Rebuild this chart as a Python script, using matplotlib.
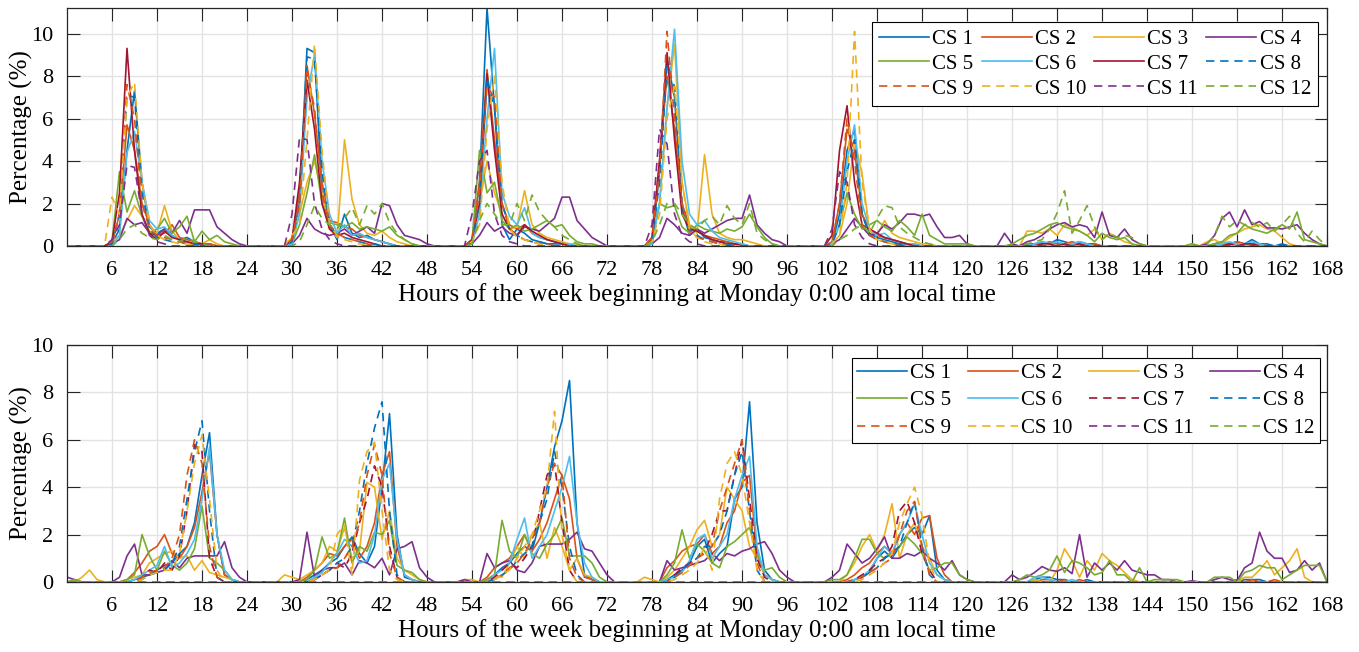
import numpy as np
import matplotlib
matplotlib.use("Agg")
import matplotlib.pyplot as plt

plt.rcParams["font.family"] = ["Liberation Serif", "DejaVu Serif"]
plt.rcParams["font.size"] = 14

# hour of the week, 0 .. 168
hours = np.arange(169)
labels = ["CS %d" % i for i in range(1, 13)]

# ---- top panel: one row per day (Mon..Sun, 24 h), last value = hour 168 ----
top_cs1 = [
    0, 0, 0, 0, 0, 0, 0.1, 0.8, 4.5, 7.3, 3.0, 0.9, 0.6, 0.8, 0.5, 0.3, 0.4, 0.2, 0.1, 0.1, 0, 0, 0, 0,
    0, 0, 0, 0, 0, 0, 0.3, 2.0, 9.3, 9.1, 2.5, 1.0, 0.3, 1.5, 0.6, 0.4, 0.5, 0.3, 0.2, 0.1, 0, 0, 0, 0,
    0, 0, 0, 0, 0, 0, 0.1, 3.0, 11.2, 6.5, 1.0, 0.3, 0.8, 0.6, 0.3, 0.2, 0.1, 0.1, 0.1, 0, 0, 0, 0, 0,
    0, 0, 0, 0, 0, 0, 0.1, 3.5, 8.8, 7.0, 1.8, 0.5, 0.8, 0.4, 0.3, 0.2, 0.2, 0.1, 0, 0, 0, 0, 0, 0,
    0, 0, 0, 0, 0, 0, 0.1, 1.5, 4.5, 5.5, 1.5, 0.6, 0.4, 0.3, 0.2, 0.1, 0.1, 0, 0, 0, 0, 0, 0, 0,
    0, 0, 0, 0, 0, 0, 0, 0, 0.1, 0.1, 0.2, 0.1, 0.3, 0.2, 0.1, 0.2, 0.1, 0.1, 0, 0, 0, 0, 0, 0,
    0, 0, 0, 0, 0, 0, 0, 0, 0, 0.1, 0.2, 0.1, 0.2, 0.1, 0.3, 0.1, 0.1, 0, 0.1, 0, 0, 0, 0, 0,
    0]
top_cs2 = [
    0, 0, 0, 0, 0, 0, 0.1, 1.5, 5.7, 4.5, 2.0, 1.0, 0.5, 0.6, 1.0, 0.4, 0.3, 0.2, 0.1, 0.1, 0, 0, 0, 0,
    0, 0, 0, 0, 0, 0, 0.2, 2.5, 8.5, 6.2, 3.0, 1.2, 1.1, 0.9, 0.8, 0.5, 0.4, 0.3, 0.2, 0.1, 0, 0, 0, 0,
    0, 0, 0, 0, 0, 0, 0.3, 3.0, 8.3, 5.0, 2.0, 1.0, 0.8, 1.0, 0.6, 0.4, 0.3, 0.2, 0.1, 0, 0, 0, 0, 0,
    0, 0, 0, 0, 0, 0, 0.3, 4.0, 8.0, 5.5, 2.0, 0.9, 0.7, 0.5, 0.4, 0.3, 0.2, 0.1, 0.1, 0, 0, 0, 0, 0,
    0, 0, 0, 0, 0, 0, 0.2, 2.0, 5.5, 4.5, 1.5, 0.8, 0.5, 0.4, 0.3, 0.2, 0.1, 0.1, 0, 0, 0, 0, 0, 0,
    0, 0, 0, 0, 0, 0, 0, 0, 0, 0.1, 0.1, 0.2, 0.1, 0.1, 0.2, 0.1, 0, 0.1, 0, 0, 0, 0, 0, 0,
    0, 0, 0, 0, 0, 0, 0, 0, 0, 0, 0.1, 0.1, 0.2, 0.1, 0.1, 0.1, 0, 0, 0, 0, 0, 0, 0, 0,
    0]
top_cs3 = [
    0, 0, 0, 0, 0, 0, 0.2, 0.5, 1.2, 1.9, 1.4, 0.7, 0.6, 1.9, 0.7, 0.3, 0.2, 0.1, 0.1, 0.3, 0.1, 0, 0, 0,
    0, 0, 0, 0, 0, 0, 0.4, 1.5, 3.0, 4.0, 2.5, 0.8, 0.4, 5.0, 2.2, 1.0, 0.6, 0.5, 0.7, 0.4, 0.2, 0.1, 0, 0,
    0, 0, 0, 0, 0, 0, 0.3, 2.0, 4.0, 2.5, 1.5, 0.8, 0.9, 2.6, 1.0, 0.6, 0.4, 0.3, 0.2, 0.1, 0.1, 0, 0, 0,
    0, 0, 0, 0, 0, 0, 0.2, 2.0, 6.5, 9.5, 3.0, 1.0, 0.6, 4.3, 1.5, 0.6, 0.4, 0.3, 0.3, 0.2, 0.1, 0, 0, 0,
    0, 0, 0, 0, 0, 0, 0.1, 0.5, 2.0, 5.0, 3.4, 0.7, 0.5, 1.2, 0.6, 0.4, 0.3, 0.2, 0.1, 0.1, 0, 0, 0, 0,
    0, 0, 0, 0, 0, 0, 0, 0, 0.7, 0.7, 0.6, 0.8, 0.5, 1.0, 0.9, 0.7, 0.5, 0.8, 0.3, 0.6, 0.4, 0.2, 0.1, 0,
    0, 0, 0, 0, 0, 0, 0.1, 0, 0.2, 0.3, 0.1, 0.4, 0.6, 0.8, 0.9, 1.0, 0.8, 0.7, 0.4, 0.1, 0, 0, 0, 0,
    0]
top_cs4 = [
    0, 0, 0, 0, 0, 0, 0.1, 0.3, 1.3, 1.0, 1.1, 0.6, 0.5, 0.8, 0.6, 1.2, 0.6, 1.7, 1.7, 1.7, 0.9, 0.6, 0.3, 0.1,
    0, 0, 0, 0, 0, 0, 0.1, 0.5, 1.3, 0.8, 0.6, 0.5, 0.6, 0.8, 0.5, 0.7, 0.9, 0.6, 2.0, 1.9, 1.0, 0.5, 0.4, 0.3,
    0.1, 0, 0, 0, 0, 0, 0.1, 0.5, 1.1, 0.7, 0.9, 0.6, 0.5, 0.9, 0.8, 0.7, 1.0, 1.3, 2.3, 2.3, 1.2, 0.8, 0.4, 0.2,
    0, 0, 0, 0, 0, 0, 0.1, 0.4, 1.3, 1.0, 0.6, 0.5, 0.8, 0.6, 0.8, 1.0, 1.2, 1.3, 1.3, 2.4, 1.0, 0.6, 0.3, 0.2,
    0, 0, 0, 0, 0, 0, 0.1, 0.3, 0.8, 1.3, 0.9, 0.5, 0.6, 1.0, 0.8, 1.1, 1.5, 1.5, 1.4, 1.5, 0.9, 0.4, 0.4, 0.5,
    0.1, 0, 0, 0, 0, 0.6, 0.1, 0, 0.2, 0.3, 0.5, 0.8, 1.0, 1.1, 0.9, 1.0, 0.9, 0.4, 1.6, 0.5, 0.4, 0.8, 0.3, 0.1,
    0, 0, 0, 0, 0, 0, 0, 0, 0.1, 0.5, 1.3, 1.6, 0.9, 1.7, 1.0, 1.15, 0.85, 0.85, 0.8, 0.9, 1.0, 0.6, 0.3, 0.1,
    0]
top_cs5 = [
    0, 0, 0, 0, 0, 0, 0.2, 3.5, 1.6, 2.6, 1.4, 0.6, 0.8, 1.3, 0.6, 0.9, 1.4, 0.2, 0.7, 0.3, 0.5, 0.2, 0.1, 0,
    0, 0, 0, 0, 0, 0, 0.1, 1.0, 2.5, 4.3, 2.0, 1.1, 1.0, 0.9, 1.1, 0.8, 0.9, 0.8, 0.7, 0.9, 0.5, 0.3, 0.1, 0,
    0, 0, 0, 0, 0, 0, 0.2, 4.5, 2.5, 3.0, 1.2, 0.8, 1.0, 0.7, 0.8, 1.0, 1.2, 0.9, 1.0, 0.5, 0.2, 0.1, 0.1, 0,
    0, 0, 0, 0, 0, 0, 0.2, 2.0, 1.8, 1.9, 0.9, 0.6, 1.0, 0.8, 0.7, 0.6, 0.8, 0.7, 0.9, 1.5, 0.9, 0.4, 0.1, 0,
    0, 0, 0, 0, 0, 0, 0.1, 1.0, 2.5, 1.5, 0.8, 1.0, 1.2, 0.9, 0.7, 1.2, 0.9, 0.5, 1.5, 0.5, 0.3, 0.1, 0.1, 0.1,
    0.1, 0, 0, 0, 0, 0, 0.1, 0.3, 0.5, 0.6, 0.8, 1.0, 1.1, 0.9, 0.8, 0.7, 0.5, 0.2, 0.6, 0.4, 0.3, 0.4, 0.1, 0,
    0, 0, 0, 0, 0, 0, 0.1, 0, 0, 0.1, 0.2, 0.5, 0.6, 1.0, 0.8, 0.7, 0.6, 0.8, 1.0, 0.8, 1.6, 0.3, 0.2, 0.1,
    0]
top_cs6 = [
    0, 0, 0, 0, 0, 0, 0, 0.5, 4.4, 5.4, 3.0, 1.2, 0.8, 0.9, 0.5, 0.3, 0.2, 0.1, 0.1, 0, 0, 0, 0, 0,
    0, 0, 0, 0, 0, 0, 0.1, 1.5, 7.0, 9.0, 4.0, 1.5, 0.6, 1.0, 0.5, 0.6, 0.4, 0.3, 0.2, 0.1, 0, 0, 0, 0,
    0, 0, 0, 0, 0, 0, 0.1, 1.5, 6.0, 9.3, 2.5, 1.4, 1.0, 1.8, 0.6, 0.4, 0.3, 0.2, 0.1, 0.1, 0, 0, 0, 0,
    0, 0, 0, 0, 0, 0, 0.1, 2.0, 6.5, 10.2, 4.0, 1.5, 1.0, 1.2, 0.7, 0.4, 0.3, 0.2, 0.1, 0, 0, 0, 0, 0,
    0, 0, 0, 0, 0, 0, 0.1, 1.0, 4.0, 5.7, 2.0, 0.8, 0.5, 0.6, 0.3, 0.2, 0.1, 0.1, 0, 0, 0, 0, 0, 0,
    0, 0, 0, 0, 0, 0, 0, 0, 0, 0.1, 0.2, 0.1, 0.2, 0.1, 0.1, 0.2, 0.1, 0, 0, 0, 0, 0, 0, 0,
    0, 0, 0, 0, 0, 0, 0, 0, 0, 0, 0.1, 0.2, 0.1, 0.1, 0.2, 0.1, 0, 0, 0, 0, 0, 0, 0, 0,
    0]
top_cs7 = [
    0, 0, 0, 0, 0, 0, 0.2, 2.5, 9.3, 4.5, 1.5, 0.6, 0.3, 0.7, 0.4, 0.3, 0.2, 0.1, 0.1, 0, 0, 0, 0, 0,
    0, 0, 0, 0, 0, 0, 0.3, 3.0, 7.8, 5.5, 2.0, 0.8, 0.5, 0.6, 0.4, 0.3, 0.2, 0.1, 0, 0, 0, 0, 0, 0,
    0, 0, 0, 0, 0, 0, 0.3, 2.0, 8.1, 4.5, 1.5, 0.8, 0.5, 1.0, 0.7, 0.5, 0.3, 0.2, 0.1, 0, 0, 0, 0, 0,
    0, 0, 0, 0, 0, 0, 0.4, 4.0, 9.1, 5.0, 1.5, 0.8, 0.7, 0.5, 0.3, 0.2, 0.1, 0.1, 0, 0, 0, 0, 0, 0,
    0, 0, 0, 0, 0, 0, 0.5, 4.5, 6.6, 3.0, 1.0, 0.8, 0.6, 0.4, 0.3, 0.2, 0.1, 0, 0, 0, 0, 0, 0, 0,
    0, 0, 0, 0, 0, 0, 0, 0, 0, 0, 0.1, 0.1, 0, 0.1, 0, 0.1, 0, 0, 0, 0, 0, 0, 0, 0,
    0, 0, 0, 0, 0, 0, 0, 0, 0, 0, 0, 0.1, 0, 0.1, 0.1, 0, 0, 0, 0, 0, 0, 0, 0, 0,
    0]
top_cs8 = [
    0, 0, 0, 0, 0, 0, 0.1, 1.5, 7.1, 7.0, 2.5, 0.8, 0.4, 0.3, 0.2, 0.2, 0.1, 0.1, 0, 0, 0, 0, 0, 0,
    0, 0, 0, 0, 0, 0, 0.2, 2.0, 8.9, 8.8, 3.5, 1.0, 0.5, 0.4, 0.3, 0.2, 0.1, 0.1, 0, 0, 0, 0, 0, 0,
    0, 0, 0, 0, 0, 0, 0.2, 2.0, 7.9, 6.5, 2.0, 0.8, 0.5, 0.3, 0.2, 0.2, 0.1, 0, 0, 0, 0, 0, 0, 0,
    0, 0, 0, 0, 0, 0, 0.2, 3.0, 8.5, 7.5, 2.0, 0.8, 0.5, 0.3, 0.2, 0.1, 0.1, 0, 0, 0, 0, 0, 0, 0,
    0, 0, 0, 0, 0, 0, 0.1, 1.0, 3.5, 5.0, 1.5, 0.5, 0.3, 0.2, 0.1, 0.1, 0, 0, 0, 0, 0, 0, 0, 0,
    0, 0, 0, 0, 0, 0, 0, 0, 0, 0, 0, 0, 0, 0, 0, 0, 0, 0, 0, 0, 0, 0, 0, 0,
    0, 0, 0, 0, 0, 0, 0, 0, 0, 0, 0, 0, 0, 0, 0, 0, 0, 0, 0, 0, 0, 0, 0, 0,
    0]
top_cs9 = [
    0, 0, 0, 0, 0, 0, 0.2, 1.5, 7.6, 6.0, 2.0, 0.8, 0.5, 0.4, 0.3, 0.2, 0.1, 0, 0, 0, 0, 0, 0, 0,
    0, 0, 0, 0, 0, 0, 0.3, 2.0, 8.2, 6.5, 2.5, 1.0, 0.6, 0.4, 0.3, 0.2, 0.1, 0, 0, 0, 0, 0, 0, 0,
    0, 0, 0, 0, 0, 0, 0.3, 2.5, 7.5, 7.0, 2.0, 0.8, 0.5, 0.3, 0.2, 0.1, 0.1, 0, 0, 0, 0, 0, 0, 0,
    0, 0, 0, 0, 0, 0, 0.4, 3.5, 10.1, 6.0, 2.0, 0.7, 0.4, 0.3, 0.2, 0.1, 0, 0, 0, 0, 0, 0, 0, 0,
    0, 0, 0, 0, 0, 0, 0.2, 2.0, 6.0, 4.0, 1.0, 0.5, 0.3, 0.2, 0.1, 0, 0, 0, 0, 0, 0, 0, 0, 0,
    0, 0, 0, 0, 0, 0, 0, 0, 0, 0, 0, 0, 0, 0, 0, 0, 0, 0, 0, 0, 0, 0, 0, 0,
    0, 0, 0, 0, 0, 0, 0, 0, 0, 0, 0, 0, 0, 0, 0, 0, 0, 0, 0, 0, 0, 0, 0, 0,
    0]
top_cs10 = [
    0, 0, 0, 0, 0, 0, 2.3, 1.5, 7.0, 7.7, 3.0, 1.0, 0.5, 0.3, 0.2, 0.1, 0.1, 0, 0, 0, 0, 0, 0, 0,
    0, 0, 0, 0, 0, 0, 0.5, 1.0, 5.0, 9.5, 4.5, 1.0, 0.5, 0.3, 0.2, 0.1, 0, 0, 0, 0, 0, 0, 0, 0,
    0, 0, 0, 0, 0, 0, 0.2, 1.0, 5.5, 8.0, 3.0, 0.8, 0.4, 0.3, 0.2, 0.1, 0, 0, 0, 0, 0, 0, 0, 0,
    0, 0, 0, 0, 0, 0, 0.2, 1.5, 6.0, 7.5, 3.0, 0.8, 0.4, 0.2, 0.1, 0.1, 0, 0, 0, 0, 0, 0, 0, 0,
    0, 0, 0, 0, 0, 0, 0.1, 0.5, 3.0, 10.1, 3.0, 0.8, 0.3, 0.2, 0.1, 0, 0, 0, 0, 0, 0, 0, 0, 0,
    0, 0, 0, 0, 0, 0, 0, 0, 0, 0, 0, 0, 0, 0, 0, 0, 0, 0, 0, 0, 0, 0, 0, 0,
    0, 0, 0, 0, 0, 0, 0, 0, 0, 0, 0, 0, 0, 0, 0, 0, 0, 0, 0, 0, 0, 0, 0, 0,
    0]
top_cs11 = [
    0, 0, 0, 0, 0, 0, 0.3, 1.0, 3.8, 3.7, 1.5, 0.5, 0.2, 0.1, 0, 0, 0, 0, 0, 0, 0, 0, 0, 0,
    0, 0, 0, 0, 0, 0, 1.5, 5.1, 5.0, 2.0, 0.8, 0.3, 0.1, 0, 0, 0, 0, 0, 0, 0, 0, 0, 0, 0,
    0, 0, 0, 0, 0, 0, 1.5, 4.0, 4.5, 1.5, 0.5, 0.2, 0.1, 0, 0, 0, 0, 0, 0, 0, 0, 0, 0, 0,
    0, 0, 0, 0, 0, 0, 1.0, 5.5, 4.8, 1.5, 0.5, 0.2, 0.1, 0, 0, 0, 0, 0, 0, 0, 0, 0, 0, 0,
    0, 0, 0, 0, 0, 0, 0.8, 3.5, 3.0, 1.0, 0.4, 0.1, 0, 0, 0, 0, 0, 0, 0, 0, 0, 0, 0, 0,
    0, 0, 0, 0, 0, 0, 0, 0, 0, 0, 0, 0, 0, 0, 0, 0, 0, 0, 0, 0, 0, 0, 0, 0,
    0, 0, 0, 0, 0, 0, 0, 0, 0, 0, 0, 0, 0, 0, 0, 0, 0, 0, 0, 0, 0, 0, 0, 0,
    0]
top_cs12 = [
    0, 0, 0, 0, 0, 0, 0, 0.3, 0.8, 1.0, 0.6, 0.4, 0.3, 0.5, 0.3, 0.2, 0.4, 0.2, 0.1, 0, 0, 0, 0, 0,
    0, 0, 0, 0, 0, 0, 0, 0.2, 1.0, 1.9, 1.3, 1.0, 0.8, 1.3, 1.8, 1.0, 1.9, 1.5, 2.0, 1.1, 0.6, 0.3, 0.1, 0,
    0, 0, 0, 0, 0, 0, 0.1, 1.2, 2.0, 1.5, 1.0, 1.0, 2.0, 1.2, 2.4, 1.6, 1.2, 0.9, 0.5, 0.3, 0.1, 0, 0, 0,
    0, 0, 0, 0, 0, 0, 0.2, 1.0, 2.0, 2.0, 1.5, 1.0, 0.8, 1.2, 1.4, 1.0, 1.9, 1.3, 1.0, 2.0, 0.6, 0.3, 0.1, 0,
    0, 0, 0, 0, 0, 0, 0, 0.3, 0.5, 0.8, 1.0, 0.6, 1.3, 1.9, 1.8, 0.9, 0.6, 0.4, 0.2, 0.1, 0, 0, 0, 0,
    0, 0, 0, 0, 0, 0, 0, 0, 0.1, 0.2, 0.3, 0.8, 1.55, 2.6, 0.6, 1.2, 1.9, 0.9, 0.3, 0.6, 0.4, 0.5, 0.4, 0.1,
    0, 0, 0, 0, 0, 0, 0, 0, 0.1, 0.5, 1.4, 0.9, 1.2, 1.0, 1.1, 0.9, 1.1, 0.7, 1.0, 1.4, 0.6, 0.2, 0.7, 0.3,
    0]

# ---- bottom panel ----
bot_cs1 = [
    0, 0, 0, 0, 0, 0, 0, 0, 0, 0.1, 0.2, 0.3, 0.5, 0.7, 0.8, 1.2, 1.5, 2.5, 4.5, 6.3, 2.0, 0.3, 0.1, 0,
    0, 0, 0, 0, 0, 0, 0, 0, 0.1, 0.3, 0.5, 0.8, 1.0, 1.5, 1.9, 1.2, 0.8, 1.5, 4.0, 7.1, 2.0, 0.2, 0.1, 0,
    0, 0, 0, 0, 0, 0, 0, 0, 0.1, 0.3, 0.6, 0.8, 1.2, 1.5, 1.3, 2.5, 4.0, 5.7, 6.8, 8.5, 2.5, 0.3, 0.1, 0,
    0, 0, 0, 0, 0, 0, 0, 0, 0.1, 0.3, 0.5, 0.8, 1.5, 1.8, 0.8, 1.2, 1.5, 3.5, 4.0, 7.6, 2.5, 0.5, 0.1, 0,
    0, 0, 0, 0, 0, 0, 0, 0, 0, 0.1, 0.2, 0.4, 1.0, 1.3, 1.0, 1.5, 2.0, 2.3, 2.0, 2.8, 0.5, 0.1, 0, 0,
    0, 0, 0, 0, 0, 0, 0, 0, 0, 0.1, 0.2, 0.2, 0.1, 0.1, 0, 0, 0.1, 0, 0, 0, 0, 0, 0, 0,
    0, 0, 0, 0, 0, 0, 0, 0, 0, 0, 0, 0, 0, 0.1, 0.1, 0.1, 0, 0, 0, 0, 0, 0, 0, 0,
    0]
bot_cs2 = [
    0, 0, 0, 0, 0, 0, 0, 0, 0.1, 0.4, 0.8, 1.3, 1.5, 2.0, 1.2, 1.0, 1.5, 2.3, 3.8, 5.5, 2.0, 0.3, 0.1, 0,
    0, 0, 0, 0, 0, 0, 0, 0, 0.2, 0.5, 0.8, 1.2, 1.1, 1.5, 1.8, 1.0, 1.5, 2.5, 4.5, 5.5, 1.5, 0.3, 0.1, 0,
    0, 0, 0, 0, 0, 0, 0, 0, 0.2, 0.6, 0.8, 1.0, 1.5, 2.0, 1.3, 1.8, 2.5, 3.5, 4.5, 3.5, 1.0, 0.2, 0.1, 0,
    0, 0, 0, 0, 0, 0, 0, 0, 0.6, 0.9, 1.3, 1.5, 1.6, 2.0, 1.2, 1.5, 2.5, 3.0, 4.2, 4.5, 1.2, 0.3, 0.1, 0,
    0, 0, 0, 0, 0, 0, 0, 0, 0.1, 0.3, 0.6, 0.8, 1.2, 1.5, 1.2, 2.0, 2.5, 2.0, 2.7, 2.8, 1.0, 0.3, 0, 0,
    0, 0, 0, 0, 0, 0, 0, 0, 0, 0, 0.1, 0.1, 0, 0.1, 0, 0.1, 0, 0, 0, 0, 0, 0, 0, 0,
    0, 0, 0, 0, 0, 0, 0, 0, 0, 0, 0, 0, 0.1, 0, 0.1, 0, 0, 0.1, 0, 0, 0, 0, 0, 0,
    0]
bot_cs3 = [
    0, 0, 0.2, 0.5, 0.1, 0, 0, 0, 0.1, 0.2, 0.3, 0.8, 1.0, 1.2, 1.3, 1.0, 1.1, 0.5, 0.9, 0.4, 0.3, 0.2, 0.1, 0,
    0, 0, 0, 0, 0, 0.3, 0.2, 0.1, 0.3, 0.5, 0.8, 1.5, 1.3, 2.3, 1.0, 1.3, 4.2, 4.0, 1.8, 3.0, 1.0, 0.5, 0.3, 0.1,
    0, 0, 0, 0, 0, 0.1, 0.1, 0, 0.1, 0.3, 0.2, 0.8, 1.5, 1.0, 2.0, 2.5, 1.0, 2.3, 1.5, 0.5, 1.0, 0.3, 0.2, 0,
    0, 0, 0, 0, 0, 0.2, 0.1, 0, 0.2, 0.5, 1.0, 1.5, 2.2, 2.6, 1.5, 2.0, 4.0, 3.5, 3.0, 1.5, 1.0, 0.3, 0.1, 0,
    0, 0, 0, 0, 0, 0, 0, 0, 0.3, 0.8, 1.5, 2.0, 1.3, 2.0, 3.3, 1.0, 2.0, 2.5, 1.5, 1.0, 0.3, 0.1, 0, 0,
    0, 0, 0, 0, 0, 0, 0, 0, 0, 0.1, 0, 0, 0.5, 1.4, 0.9, 0.2, 0.9, 0.5, 1.2, 0.9, 0.7, 0.4, 0.1, 0,
    0, 0, 0, 0, 0, 0, 0, 0, 0, 0, 0, 0, 0, 0.2, 0.2, 0.5, 0.9, 0.3, 0.6, 0.9, 1.4, 0.2, 0, 0,
    0]
bot_cs4 = [
    0.2, 0.1, 0, 0, 0, 0, 0, 0.2, 1.1, 1.6, 0.3, 0.3, 0.4, 0.5, 0.9, 0.6, 1.0, 1.1, 1.1, 1.1, 1.1, 1.7, 0.6, 0.2,
    0, 0, 0, 0, 0, 0, 0, 0.1, 2.1, 0.2, 0.5, 0.6, 0.6, 0.8, 0.3, 0.9, 0.8, 0.6, 1.0, 0.3, 1.4, 1.5, 1.7, 0.6,
    0.2, 0, 0, 0, 0, 0.1, 0, 0, 1.2, 0.6, 0.8, 0.9, 0.5, 0.4, 0.8, 1.5, 1.6, 1.6, 1.6, 1.8, 2.1, 1.4, 1.3, 0.8,
    0.3, 0, 0, 0, 0, 0, 0, 0, 0.9, 0.5, 0.6, 0.7, 0.8, 0.9, 1.2, 0.9, 1.2, 1.1, 1.3, 1.4, 1.6, 1.7, 1.2, 0.5,
    0.2, 0, 0, 0, 0, 0, 0.2, 0.5, 1.6, 1.2, 0.8, 1.0, 1.4, 1.9, 1.0, 1.0, 1.2, 1.1, 1.3, 1.0, 0.8, 0.5, 0.9, 0.3,
    0.1, 0, 0, 0, 0, 0, 0.3, 0.1, 0.2, 0.4, 0.65, 0.5, 0.45, 0.6, 0.35, 2.0, 0.2, 0.8, 0.5, 0.8, 0.5, 0.9, 0.5, 0.4,
    0.3, 0.3, 0.1, 0.1, 0, 0, 0.05, 0, 0, 0.1, 0.2, 0.1, 0.05, 0.6, 0.8, 2.1, 1.3, 1.0, 1.0, 0.4, 0.5, 0.9, 0.5, 0.8,
    0]
bot_cs5 = [
    0, 0.1, 0, 0, 0, 0, 0, 0, 0.1, 0.3, 2.0, 1.1, 0.5, 1.3, 0.7, 0.5, 0.8, 1.4, 3.2, 1.0, 0.8, 0.5, 0.1, 0,
    0, 0, 0, 0, 0, 0, 0, 0, 0.1, 0.5, 1.9, 1.0, 1.2, 2.7, 0.8, 1.5, 1.3, 2.1, 2.0, 2.6, 0.7, 0.5, 0.4, 0.1,
    0, 0, 0, 0, 0, 0, 0, 0, 0.1, 0.3, 2.6, 1.3, 1.0, 2.0, 1.2, 1.0, 1.6, 2.0, 2.7, 1.1, 1.1, 1.1, 0.8, 0.2,
    0, 0, 0, 0, 0, 0, 0, 0, 0.3, 0.8, 2.2, 1.0, 1.6, 1.3, 0.8, 0.6, 1.5, 1.7, 2.0, 2.3, 1.2, 0.5, 0.6, 0.2,
    0, 0, 0, 0, 0, 0, 0.1, 0.1, 0.3, 1.0, 1.8, 1.8, 1.2, 1.0, 1.3, 1.5, 1.9, 1.6, 1.2, 0.5, 0.6, 0.8, 0.8, 0.3,
    0.1, 0, 0, 0, 0, 0, 0, 0.1, 0.3, 0.2, 0.3, 0.5, 1.1, 0.4, 0.9, 0.8, 0.6, 0.3, 0.4, 0.9, 0.3, 0.3, 0, 0.6,
    0, 0.1, 0.1, 0.1, 0.1, 0, 0, 0, 0, 0.2, 0.2, 0.2, 0, 0.4, 0.5, 0.7, 0.6, 0.6, 0.1, 0.3, 0.5, 0.7, 0.7, 0.7,
    0]
bot_cs6 = [
    0, 0, 0, 0, 0, 0, 0, 0, 0, 0.1, 0.3, 0.5, 0.7, 1.5, 0.6, 0.8, 1.2, 1.8, 3.5, 5.7, 2.0, 0.5, 0.1, 0,
    0, 0, 0, 0, 0, 0, 0, 0, 0, 0.2, 0.4, 0.8, 1.2, 1.8, 1.5, 0.8, 0.9, 2.0, 4.3, 5.0, 1.8, 0.3, 0.1, 0,
    0, 0, 0, 0, 0, 0, 0, 0, 0, 0.3, 0.5, 0.8, 1.8, 2.7, 1.0, 1.5, 2.0, 3.0, 4.0, 5.3, 2.5, 0.8, 0.2, 0,
    0, 0, 0, 0, 0, 0, 0, 0, 0.1, 0.2, 0.4, 0.9, 1.8, 2.0, 1.0, 1.5, 2.0, 3.5, 4.5, 5.3, 1.5, 0.3, 0.1, 0,
    0, 0, 0, 0, 0, 0, 0, 0, 0, 0.1, 0.2, 0.5, 1.0, 1.5, 1.2, 2.0, 2.5, 3.3, 2.0, 0.8, 0.3, 0.1, 0, 0,
    0, 0, 0, 0, 0, 0, 0, 0, 0, 0.2, 0.2, 0.1, 0, 0, 0.1, 0, 0, 0, 0, 0, 0, 0, 0, 0,
    0, 0, 0, 0, 0, 0, 0, 0, 0, 0, 0, 0, 0, 0, 0, 0, 0, 0, 0, 0, 0, 0, 0, 0,
    0]
bot_cs7 = [
    0, 0, 0, 0, 0, 0, 0, 0, 0, 0, 0.2, 0.5, 0.4, 0.8, 0.5, 1.1, 3.0, 5.8, 5.5, 1.0, 0.2, 0, 0, 0,
    0, 0, 0, 0, 0, 0, 0, 0, 0, 0.1, 0.3, 0.5, 0.8, 0.6, 1.2, 2.5, 3.5, 4.9, 4.0, 1.5, 0.2, 0, 0, 0,
    0, 0, 0, 0, 0, 0, 0, 0, 0, 0.2, 0.5, 0.8, 0.6, 1.0, 1.5, 3.0, 4.5, 5.0, 2.5, 0.5, 0, 0, 0, 0,
    0, 0, 0, 0, 0, 0, 0, 0, 0, 0.3, 0.6, 0.8, 1.0, 1.3, 2.0, 3.0, 3.0, 4.5, 6.0, 3.5, 1.0, 0.2, 0, 0,
    0, 0, 0, 0, 0, 0, 0, 0, 0, 0.1, 0.3, 0.5, 0.8, 1.0, 1.5, 3.0, 3.4, 2.5, 1.2, 0.5, 0, 0, 0, 0,
    0, 0, 0, 0, 0, 0, 0, 0, 0, 0, 0, 0, 0, 0, 0, 0, 0, 0, 0, 0, 0, 0, 0, 0,
    0, 0, 0, 0, 0, 0, 0, 0, 0, 0, 0, 0, 0, 0, 0, 0, 0, 0, 0, 0, 0, 0, 0, 0,
    0]
bot_cs8 = [
    0, 0, 0, 0, 0, 0, 0, 0, 0, 0, 0.1, 0.3, 0.4, 0.5, 0.8, 1.5, 3.5, 5.5, 6.8, 3.0, 0.2, 0, 0, 0,
    0, 0, 0, 0, 0, 0, 0, 0, 0, 0.1, 0.3, 0.5, 0.8, 1.0, 1.5, 3.0, 5.0, 6.5, 7.6, 3.0, 0.3, 0, 0, 0,
    0, 0, 0, 0, 0, 0, 0, 0, 0, 0.1, 0.3, 0.5, 0.9, 1.2, 1.5, 2.5, 3.5, 5.5, 4.0, 1.5, 0.3, 0, 0, 0,
    0, 0, 0, 0, 0, 0, 0, 0, 0, 0.2, 0.5, 0.8, 1.0, 1.5, 1.5, 2.0, 3.0, 4.5, 5.5, 3.0, 0.5, 0, 0, 0,
    0, 0, 0, 0, 0, 0, 0, 0, 0, 0, 0.2, 0.4, 0.6, 1.0, 1.2, 1.5, 2.5, 3.4, 1.5, 0.3, 0, 0, 0, 0,
    0, 0, 0, 0, 0, 0, 0, 0, 0, 0, 0, 0, 0, 0, 0, 0, 0, 0, 0, 0, 0, 0, 0, 0,
    0, 0, 0, 0, 0, 0, 0, 0, 0, 0, 0, 0, 0, 0, 0, 0, 0, 0, 0, 0, 0, 0, 0, 0,
    0]
bot_cs9 = [
    0, 0, 0, 0, 0, 0, 0, 0, 0, 0, 0.2, 0.4, 0.5, 0.6, 1.0, 2.0, 4.5, 6.0, 5.0, 1.5, 0.2, 0, 0, 0,
    0, 0, 0, 0, 0, 0, 0, 0, 0, 0.1, 0.3, 0.5, 0.6, 1.0, 1.5, 2.5, 4.5, 5.8, 4.5, 1.2, 0.2, 0, 0, 0,
    0, 0, 0, 0, 0, 0, 0, 0, 0, 0.1, 0.3, 0.6, 0.8, 1.2, 1.8, 2.5, 4.0, 5.0, 4.5, 1.0, 0.2, 0, 0, 0,
    0, 0, 0, 0, 0, 0, 0, 0, 0, 0.2, 0.4, 0.7, 1.0, 1.2, 1.5, 3.0, 4.0, 5.0, 6.0, 3.0, 0.8, 0, 0, 0,
    0, 0, 0, 0, 0, 0, 0, 0, 0, 0.1, 0.2, 0.4, 0.6, 0.8, 1.0, 2.0, 3.0, 3.4, 1.5, 0.3, 0, 0, 0, 0,
    0, 0, 0, 0, 0, 0, 0, 0, 0, 0, 0, 0, 0, 0, 0, 0, 0, 0, 0, 0, 0, 0, 0, 0,
    0, 0, 0, 0, 0, 0, 0, 0, 0, 0, 0, 0, 0, 0, 0, 0, 0, 0, 0, 0, 0, 0, 0, 0,
    0]
bot_cs10 = [
    0, 0, 0, 0, 0, 0, 0, 0, 0, 0, 0.1, 0.3, 0.4, 0.5, 0.5, 1.2, 3.0, 5.0, 6.2, 3.5, 0.5, 0, 0, 0,
    0, 0, 0, 0, 0, 0, 0, 0, 0, 0.1, 0.3, 0.5, 2.0, 2.4, 0.3, 4.3, 5.5, 5.9, 3.0, 0.5, 0.1, 0, 0, 0,
    0, 0, 0, 0, 0, 0, 0, 0, 0, 0.1, 0.3, 0.5, 1.0, 1.5, 2.0, 3.0, 4.0, 7.2, 2.0, 0.5, 0, 0, 0, 0,
    0, 0, 0, 0, 0, 0, 0, 0, 0, 0.1, 0.3, 0.5, 0.8, 1.5, 0.5, 3.5, 5.0, 5.5, 4.5, 2.5, 0.5, 0, 0, 0,
    0, 0, 0, 0, 0, 0, 0, 0, 0, 0, 0.1, 0.3, 0.5, 0.8, 1.2, 2.5, 3.3, 4.0, 2.8, 0.8, 0, 0, 0, 0,
    0, 0, 0, 0, 0, 0, 0, 0, 0, 0, 0, 0, 0, 0, 0, 0, 0, 0, 0, 0, 0, 0, 0, 0,
    0, 0, 0, 0, 0, 0, 0, 0, 0, 0, 0, 0, 0, 0, 0, 0, 0, 0, 0, 0, 0, 0, 0, 0,
    0]
bot_cs11 = [
    0, 0, 0, 0, 0, 0, 0, 0, 0, 0, 0, 0, 0, 0, 0, 0, 0, 0, 0, 0, 0, 0, 0, 0,
    0, 0, 0, 0, 0, 0, 0, 0, 0, 0, 0, 0, 0, 0, 0, 0, 0, 0, 0, 0, 0, 0, 0, 0,
    0, 0, 0, 0, 0, 0, 0, 0, 0, 0, 0, 0, 0, 0, 0, 0, 0, 0, 0, 0, 0, 0, 0, 0,
    0, 0, 0, 0, 0, 0, 0, 0, 0, 0, 0, 0, 0, 0, 0, 0, 0, 0, 0, 0, 0, 0, 0, 0,
    0, 0, 0, 0, 0, 0, 0, 0, 0, 0, 0, 0, 0, 0, 0, 0, 0, 0, 0, 0, 0, 0, 0, 0,
    0, 0, 0, 0, 0, 0, 0, 0, 0, 0, 0, 0, 0, 0, 0, 0, 0, 0, 0, 0, 0, 0, 0, 0,
    0, 0, 0, 0, 0, 0, 0, 0, 0, 0, 0, 0, 0, 0, 0, 0, 0, 0, 0, 0, 0, 0, 0, 0,
    0]
bot_cs12 = list(bot_cs11)

colors = ["#0072BD", "#D95319", "#EDB120", "#7E2F8E", "#77AC30", "#4DBEEE",
          "#A2142F", "#0072BD", "#D95319", "#EDB120", "#7E2F8E", "#77AC30"]

top_series = [top_cs1, top_cs2, top_cs3, top_cs4, top_cs5, top_cs6,
              top_cs7, top_cs8, top_cs9, top_cs10, top_cs11, top_cs12]
bot_series = [bot_cs1, bot_cs2, bot_cs3, bot_cs4, bot_cs5, bot_cs6,
              bot_cs7, bot_cs8, bot_cs9, bot_cs10, bot_cs11, bot_cs12]
for s in top_series + bot_series:
    assert len(s) == 169, len(s)

xticks = list(range(6, 169, 6))
# legend is filled row by row (4 columns, 3 rows)
leg_order = [0, 4, 8, 1, 5, 9, 2, 6, 10, 3, 7, 11]


def style_axes(ax, ytop):
    ax.set_xlim(0, 168)
    ax.set_ylim(0, ytop)
    ax.set_xticks(xticks)
    ax.set_yticks([0, 2, 4, 6, 8, 10])
    ax.grid(True, color="#e3e3e3", linewidth=1.0)
    ax.set_axisbelow(True)
    ax.tick_params(direction="in", top=True, right=True, length=9,
                   width=0.8, color="#262626", labelsize=16)
    ax.tick_params(axis="x", pad=11)
    ax.tick_params(axis="y", pad=10)
    for sp in ax.spines.values():
        sp.set_color("#262626")
        sp.set_linewidth(0.9)
    ax.set_xlabel("Hours of the week beginning at Monday 0:00 am local time",
                  fontsize=18, labelpad=2)
    ax.set_ylabel("Percentage (%)", fontsize=18)
    ax.yaxis.set_label_coords(-0.027, 0.5)


def add_legend(ax, anchor, spacing, colsp, bpad):
    h, l = ax.get_legend_handles_labels()
    leg = ax.legend([h[i] for i in leg_order], [l[i] for i in leg_order],
                    ncol=4, loc="upper right", bbox_to_anchor=anchor, borderaxespad=0,
                    fontsize=15, frameon=True, fancybox=False, framealpha=1,
                    edgecolor="black", handlelength=2.4, handletextpad=0.15,
                    columnspacing=colsp, labelspacing=spacing, borderpad=bpad)
    leg.get_frame().set_linewidth(0.8)


fig = plt.figure(figsize=(13.59, 6.52), dpi=100)
ax1 = fig.add_axes([0.0493, 0.6227, 0.9272, 0.365])
ax2 = fig.add_axes([0.0493, 0.1074, 0.9272, 0.3635])

for i, y in enumerate(top_series):
    ls = "-" if i < 7 else (0, (5, 3.5))
    ax1.plot(hours, y, color=colors[i], linestyle=ls, linewidth=1.2, label=labels[i])
for i, y in enumerate(bot_series):
    ls = "-" if i < 6 else (0, (5, 3.5))
    ax2.plot(hours, y, color=colors[i], linestyle=ls, linewidth=1.2, label=labels[i])

style_axes(ax1, 11.2)
style_axes(ax2, 10)

add_legend(ax1, (0.993, 0.941), 0.25, 0.4, 0.35)
add_legend(ax2, (0.994, 0.945), 0.38, 0.8, 0.25)

fig.savefig("out.png", dpi=100)
